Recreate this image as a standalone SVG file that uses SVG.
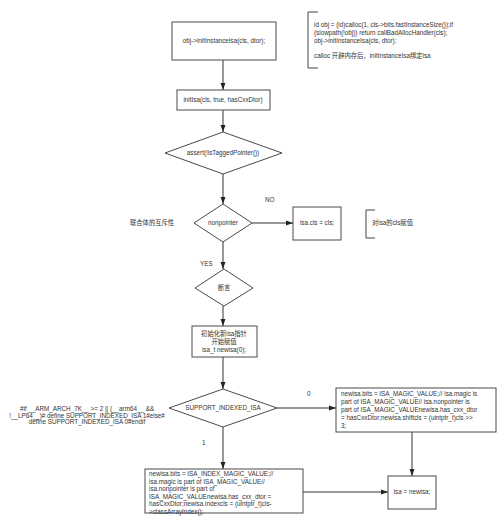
<svg xmlns="http://www.w3.org/2000/svg" width="500" height="527" viewBox="0 0 500 527">
<style>
.n{fill:#fff;stroke:#4a4a4a;stroke-width:1}
.t{font-family:"Liberation Sans","Noto Sans CJK SC",sans-serif;font-size:6.3px;fill:#333}
.c{text-anchor:middle}
.e{fill:none;stroke:#333;stroke-width:1}
.b{fill:none;stroke:#444;stroke-width:1}
</style>
<defs>
<marker id="ah" viewBox="0 0 10 10" refX="10" refY="5" markerWidth="7" markerHeight="7" orient="auto" markerUnits="userSpaceOnUse">
<path d="M0,1.5L10,5L0,8.5z" fill="#222"/>
</marker>
</defs>
<rect width="500" height="527" fill="#fff"/>
<g id="connectors">
<line class="e" x1="223" y1="60" x2="223" y2="90" marker-end="url(#ah)"/>
<line class="e" x1="223" y1="110" x2="223" y2="132" marker-end="url(#ah)"/>
<line class="e" x1="223" y1="174" x2="223" y2="204" marker-end="url(#ah)"/>
<line class="e" x1="252" y1="223" x2="293" y2="223" marker-end="url(#ah)"/>
<line class="e" x1="223" y1="242" x2="223" y2="269" marker-end="url(#ah)"/>
<line class="e" x1="223" y1="306" x2="223" y2="326" marker-end="url(#ah)"/>
<line class="e" x1="223" y1="357" x2="223" y2="389" marker-end="url(#ah)"/>
<line class="e" x1="277" y1="408" x2="336" y2="408" marker-end="url(#ah)"/>
<line class="e" x1="223" y1="427" x2="223" y2="469" marker-end="url(#ah)"/>
<line class="e" x1="412" y1="432" x2="412" y2="476" marker-end="url(#ah)"/>
<line class="e" x1="303" y1="492" x2="388" y2="492" marker-end="url(#ah)"/>
<text class="t" x="265" y="202">NO</text>
<text class="t" x="200" y="266">YES</text>
<text class="t" x="307" y="396">0</text>
<text class="t" x="202" y="445">1</text>
</g>
<g id="n1">
<rect class="n" x="172" y="22" width="104" height="38"/>
<text class="t c" x="224" y="43">obj-&gt;initInstanceIsa(cls, dtor);</text>
</g>
<g id="note1">
<path class="b" d="M318,12H308V68H318"/>
<text class="t" x="314" y="27">id obj = (id)calloc(1, cls-&gt;bits.fastInstanceSize());if</text>
<text class="t" x="314" y="35">(slowpath(!obj)) return callBadAllocHandler(cls);</text>
<text class="t" x="314" y="43">obj-&gt;initInstanceIsa(cls, dtor);</text>
<text class="t" x="314" y="58">calloc 开辟内存后，initInstanceIsa绑定isa</text>
</g>
<g id="n2">
<rect class="n" x="177" y="90" width="93" height="20"/>
<text class="t c" x="223" y="102">initIsa(cls, true, hasCxxDtor)</text>
</g>
<g id="d1">
<path class="n" d="M223,132L282,153L223,174L165,153z"/>
<text class="t c" x="223" y="155">assert(!isTaggedPointer())</text>
</g>
<g id="d2">
<path class="n" d="M223,204L252,223L223,242L194,223z"/>
<text class="t c" x="223" y="225">nonpointer</text>
</g>
<g id="note2">
<text class="t" x="130" y="225">联合体的互斥性</text>
</g>
<g id="n3">
<rect class="n" x="293" y="207" width="48" height="33"/>
<text class="t c" x="317" y="225">isa.cls = cls;</text>
</g>
<g id="note3">
<path class="b" d="M375,210H366V238H375"/>
<text class="t" x="372" y="225">对isa的cls赋值</text>
</g>
<g id="d3">
<path class="n" d="M224,269L253,288L224,306L195,288z"/>
<text class="t c" x="224" y="290">断言</text>
</g>
<g id="n4">
<rect class="n" x="192" y="326" width="65" height="31"/>
<text class="t c" x="224" y="336">初始化新isa指针</text>
<text class="t c" x="224" y="344">开始赋值</text>
<text class="t c" x="224" y="352">isa_t newisa(0);</text>
</g>
<g id="d4">
<path class="n" d="M223,389L277,408L223,427L169,408z"/>
<text class="t c" x="223" y="410">SUPPORT_INDEXED_ISA</text>
</g>
<g id="note4">
<text class="t c" x="87" y="411">#if __ARM_ARCH_7K__ &gt;= 2 || (__arm64__ &amp;&amp;</text>
<text class="t c" x="87" y="417.5">!__LP64__)# define SUPPORT_INDEXED_ISA 1#else#</text>
<text class="t c" x="87" y="424">define SUPPORT_INDEXED_ISA 0#endif</text>
</g>
<g id="n5">
<rect class="n" x="336" y="388" width="160" height="44"/>
<text class="t" x="341" y="396">newisa.bits = ISA_MAGIC_VALUE;// isa.magic is</text>
<text class="t" x="341" y="404">part of ISA_MAGIC_VALUE// isa.nonpointer is</text>
<text class="t" x="341" y="412">part of ISA_MAGIC_VALUEnewisa.has_cxx_dtor</text>
<text class="t" x="341" y="420">= hasCxxDtor;newisa.shiftcls = (uintptr_t)cls &gt;&gt;</text>
<text class="t" x="341" y="428">3;</text>
</g>
<g id="n6">
<rect class="n" x="145" y="469" width="158" height="44"/>
<text class="t" x="149" y="476">newisa.bits = ISA_INDEX_MAGIC_VALUE;//</text>
<text class="t" x="149" y="483.6">isa.magic is part of ISA_MAGIC_VALUE//</text>
<text class="t" x="149" y="491.2">isa.nonpointer is part of</text>
<text class="t" x="149" y="498.8">ISA_MAGIC_VALUEnewisa.has_cxx_dtor =</text>
<text class="t" x="149" y="506.4">hasCxxDtor;newisa.indexcls = (uintptr_t)cls-</text>
<text class="t" x="149" y="514">&gt;classArrayIndex();</text>
</g>
<g id="n7">
<rect class="n" x="388" y="476" width="48" height="33"/>
<text class="t c" x="412" y="494">isa = newisa;</text>
</g>
</svg>
